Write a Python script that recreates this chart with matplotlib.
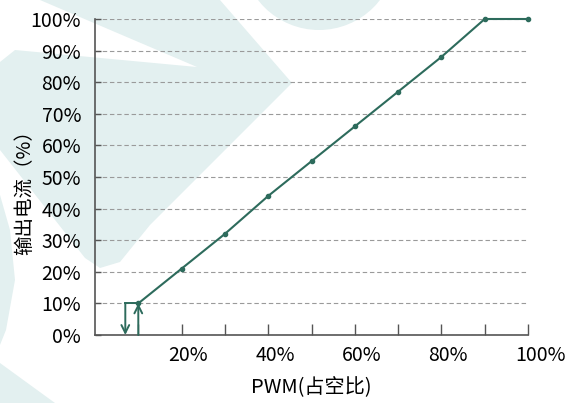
import matplotlib
matplotlib.use("Agg")
import matplotlib.pyplot as plt
import matplotlib.transforms as mtransforms
from matplotlib.patches import Polygon, Circle
import numpy as np

plt.rcParams['font.family'] = ['Noto Sans CJK SC', 'DejaVu Sans']

# 数据
pwm = [10, 20, 30, 40, 50, 60, 70, 80, 90, 100]
current = [10, 21, 32, 44, 55, 66, 77, 88, 100, 100]
xticks_major = [20, 40, 60, 80, 100]
xticks_minor = [10, 30, 50, 70, 90]
yticks = [0, 10, 20, 30, 40, 50, 60, 70, 80, 90, 100]
# 阈值箭头
x_low = 7
x_high = 10
y_step = 10

line_color = '#2d6b5c'
W, H = 574, 403

fig = plt.figure(figsize=(W / 100, H / 100), dpi=100)

# 背景水印 (像素坐标, y 向下)
wm = '#e3f0f0'
def px(pts):
    return [(x / W, 1 - y / H) for x, y in pts]

shapes = [
    [(40, 0), (220, 0), (292, 83), (150, 225), (120, 262), (100, 268), (85, 258),
     (0, 150), (0, 62), (15, 50), (197, 67)],
    [(0, 195), (10, 230), (15, 280), (6, 330), (0, 345)],
    [(0, 363), (0, 403), (55, 403)],
]
for pts in shapes:
    fig.patches.append(Polygon(px(pts), closed=True, transform=fig.transFigure,
                               facecolor=wm, edgecolor='none', zorder=-10))
fig.patches.append(Circle((319, H + 47), 77, transform=mtransforms.IdentityTransform(),
                          facecolor=wm, edgecolor='none', zorder=-10))

ax = fig.add_axes([95 / W, 1 - 335 / H, (528 - 95) / W, (335 - 19) / H])
ax.patch.set_alpha(0)

ax.plot(pwm, current, color=line_color, lw=1.5, marker='o', ms=3, clip_on=False, zorder=3)

# 箭头
ax.plot([x_low, x_high], [y_step, y_step], color=line_color, lw=1.4, clip_on=False)
ax.annotate('', xy=(x_low, 0), xytext=(x_low, y_step),
            arrowprops=dict(arrowstyle='->', color=line_color, lw=1.4,
                            shrinkA=0, shrinkB=0, mutation_scale=14),
            annotation_clip=False)
ax.annotate('', xy=(x_high, y_step), xytext=(x_high, 0),
            arrowprops=dict(arrowstyle='->', color=line_color, lw=1.4,
                            shrinkA=0, shrinkB=0, mutation_scale=14),
            annotation_clip=False)

ax.set_xlim(0, 100)
ax.set_ylim(0, 100)
ax.set_xticks(xticks_major)
ax.set_xticklabels([f'{v}%' for v in xticks_major])
ax.set_xticks(xticks_minor, minor=True)
ax.set_yticks(yticks)
ax.set_yticklabels([f'{v}%' for v in yticks])

ax.tick_params(axis='x', which='both', direction='in', length=8, width=1,
               color='#555555', labelsize=14, pad=7)
ax.tick_params(axis='y', direction='in', length=4, width=1,
               color='#555555', labelsize=14, pad=10)

# x 刻度标签向左偏移
offset = mtransforms.ScaledTranslation(-13 / 100, 0, fig.dpi_scale_trans)
for lab in ax.get_xticklabels():
    lab.set_horizontalalignment('left')
    lab.set_transform(lab.get_transform() + offset)

for s in ['top', 'right']:
    ax.spines[s].set_visible(False)
for s in ['left', 'bottom']:
    ax.spines[s].set_color('#555555')
    ax.spines[s].set_linewidth(1.2)

ax.yaxis.grid(True, linestyle=(0, (4, 2.5)), color='#9a9a9a', lw=0.8)
ax.set_axisbelow(True)

ax.set_xlabel('PWM(占空比)', fontsize=14.5)
ax.xaxis.set_label_coords(0.5, -42 / (335 - 19))
ax.set_ylabel('输出电流（%）', fontsize=14)
ax.yaxis.set_label_coords(-60 / (528 - 95), 0.465)

fig.savefig('out.png', dpi=100)
